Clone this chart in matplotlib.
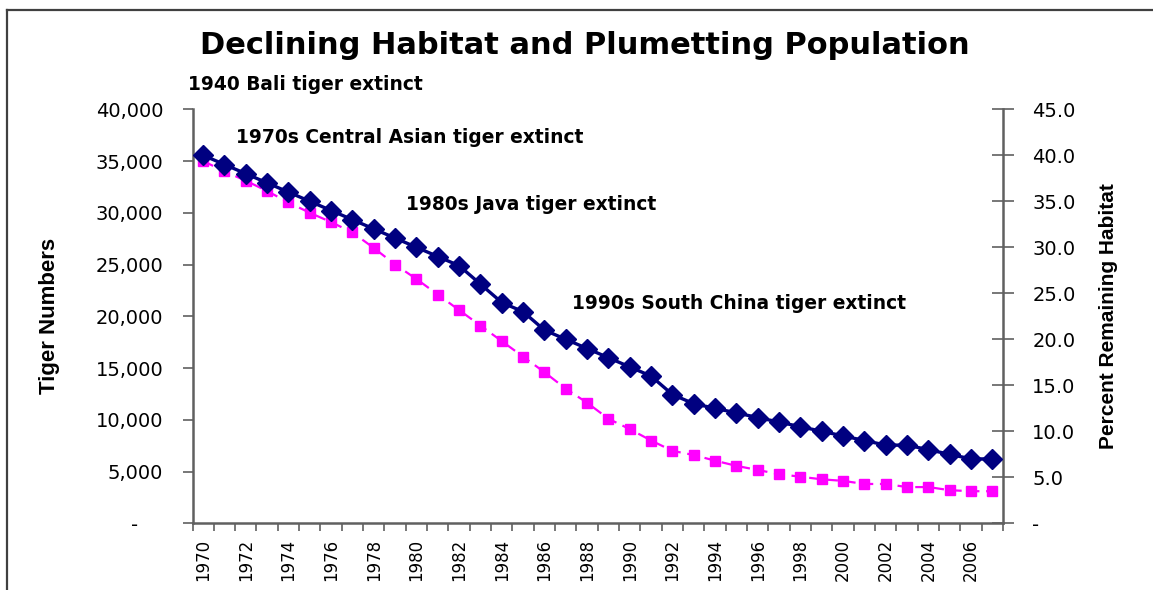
import matplotlib
matplotlib.use("Agg")
import matplotlib.pyplot as plt
import numpy as np
from matplotlib.lines import Line2D
from matplotlib.ticker import FixedLocator, FuncFormatter

# DATA
years = list(range(1970, 2008))
tiger_numbers = [35000, 34000, 33100, 32100, 31000, 30000, 29100, 28100, 26600, 25000,
                 23600, 22100, 20600, 19100, 17600, 16100, 14600, 13000, 11650, 10100,
                 9100, 8000, 7000, 6600, 6050, 5550, 5150, 4750, 4500, 4250,
                 4100, 3800, 3800, 3500, 3500, 3200, 3100, 3100]
habitat_pct = [40.0, 39.0, 38.0, 37.0, 36.0, 35.0, 34.0, 33.0, 32.0, 31.0,
               30.0, 29.0, 28.0, 26.0, 24.0, 23.0, 21.0, 20.0, 19.0, 18.0,
               17.0, 16.0, 14.0, 13.0, 12.5, 12.0, 11.5, 11.0, 10.5, 10.0,
               9.5, 9.0, 8.5, 8.5, 8.0, 7.5, 7.0, 7.0]
events = ["1940 Bali tiger extinct",
          "1970s Central Asian tiger extinct",
          "1980s Java tiger extinct",
          "1990s South China tiger extinct"]
event_pos = [(-0.006, 1.059), (0.054, 0.933), (0.263, 0.769), (0.468, 0.532)]

plt.rcParams['font.family'] = ['DejaVu Sans']
axis_col = '#606060'

fig = plt.figure(figsize=(11.53, 5.90), dpi=100)
ax = fig.add_axes([0.16696, 0.11305, 0.70295, 0.70169])
x = np.arange(len(years))

ax.plot(x, tiger_numbers, color='#FF00FF', lw=1.6, ls=(0, (5, 3)),
        marker='s', ms=7.8, mec='#FF00FF', zorder=3)
ax2 = ax.twinx()
ax2.plot(x, habitat_pct, color='#000080', lw=2.4,
         marker='D', ms=10, mec='#000080', zorder=3)

# x axis
ax.set_xlim(-0.5, len(years) - 0.5)
ax.xaxis.set_major_locator(FixedLocator(x[::2]))
ax.set_xticklabels([str(y) for y in years[::2]], rotation=90, fontsize=12)
ax.xaxis.set_minor_locator(FixedLocator(np.arange(-0.5, len(years), 1)))
ax.tick_params(axis='x', which='major', length=0, pad=11)
ax.tick_params(axis='x', which='minor', length=6, width=1.2, color=axis_col, direction='out')

# left axis
ax.set_ylim(0, 40000)
ax.set_yticks(np.arange(0, 40001, 5000))
ax.yaxis.set_major_formatter(FuncFormatter(lambda v, p: '-    ' if v == 0 else f'{v:,.0f}'))
ax.tick_params(axis='y', length=7, width=1.2, color=axis_col, direction='out', pad=14, labelsize=14)

# right axis
ax2.set_ylim(0, 45)
ax2.set_yticks(np.arange(0, 46, 5))
ax2.yaxis.set_major_formatter(FuncFormatter(lambda v, p: '-' if v == 0 else f'{v:.1f}'))
ax2.tick_params(axis='y', length=16, width=1.2, color=axis_col, direction='inout', pad=13, labelsize=14)

for s in ['top', 'right']:
    ax.spines[s].set_visible(False)
for s in ['top', 'left', 'bottom']:
    ax2.spines[s].set_visible(False)
for a, s in [(ax, 'left'), (ax, 'bottom'), (ax2, 'right')]:
    a.spines[s].set_color(axis_col)
    a.spines[s].set_linewidth(1.8)

ax.set_ylabel("Tiger Numbers", family='Liberation Sans', fontweight='bold', fontsize=16)
ax.yaxis.set_label_coords(-0.176, 0.5)
ax.yaxis.label.set_verticalalignment('center')
ax2.set_ylabel("Percent Remaining Habitat", family='Liberation Sans', fontweight='bold', fontsize=15)
ax2.yaxis.set_label_coords(1.1296, 0.5)
ax2.yaxis.label.set_verticalalignment('center')

# annotations
for txt, (tx, ty) in zip(events, event_pos):
    ax2.text(tx, ty, txt, transform=ax.transAxes, fontsize=13.4, fontweight='bold',
             ha='left', va='center', clip_on=False)

fig.text(0.5074, 0.9237, "Declining Habitat and Plumetting Population",
         ha='center', va='center', fontsize=22, fontweight='bold')

# frame
fig.add_artist(Line2D([7 / 1153, 1], [1 - 10 / 590] * 2, transform=fig.transFigure,
                      color='#404040', lw=1.6))
fig.add_artist(Line2D([7 / 1153] * 2, [0, 1 - 10 / 590], transform=fig.transFigure,
                      color='#404040', lw=1.6))

fig.savefig('out.png', dpi=100)
